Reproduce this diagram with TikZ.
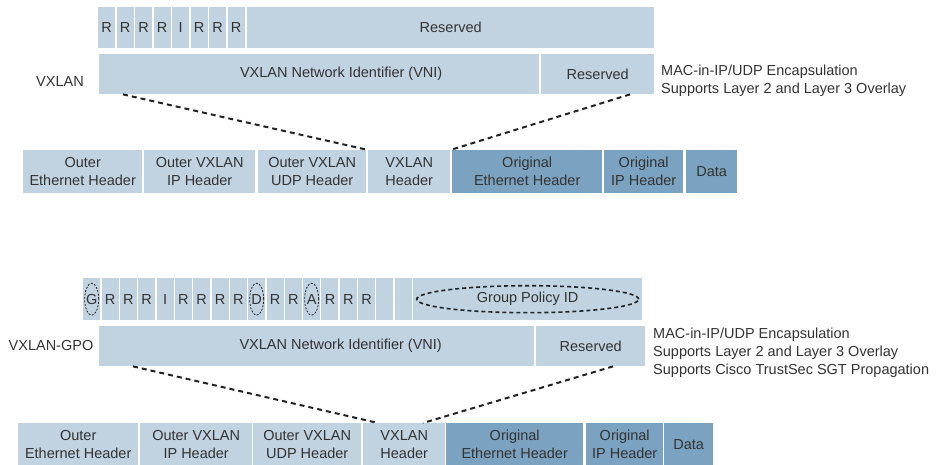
\documentclass[tikz,border=0pt]{standalone}
\usepackage{fontspec}
\setmainfont{Liberation Sans}
\usetikzlibrary{shapes.geometric}

\begin{document}
\begin{tikzpicture}[x=1pt, y=-1pt,
    font=\fontsize{14.5}{18}\selectfont,
    cell/.style={fill=lightBlue, inner sep=0pt, anchor=north west, align=center, text=textGrey},
    darkcell/.style={cell, fill=darkBlue},
    tag/.style={inner sep=0pt, text=textGrey, align=left},
    every label/.style={text=textGrey, inner sep=0pt},
    link/.style={draw=lineGrey, line width=2pt, dash pattern=on 5pt off 4pt},
    ring/.style={draw=lineGrey, ellipse, inner sep=0pt, line width=0.8pt, dash pattern=on 2pt off 1.5pt},
    bigring/.style={draw=lineGrey, ellipse, inner sep=0pt, line width=1.6pt, dash pattern=on 4pt off 3pt}]
    \definecolor{lightBlue}{HTML}{C1D2E1}
    \definecolor{darkBlue}{HTML}{7BA2C0}
    \definecolor{textGrey}{HTML}{333333}
    \definecolor{lineGrey}{HTML}{222222}

    \def\flagPitch{18.5}

    \useasboundingbox (0,0) rectangle (940,465);

    % Draw VXLAN header fields
    \foreach \lbl [count=\i] in {R,R,R,R,I,R,R,R}
        \node[cell, minimum width=17pt, minimum height=41pt] (topFlag\i) at ({98+(\i-1)*\flagPitch},7) {\lbl};
    \node[cell, minimum width=407pt, minimum height=41pt] (topRsvdA) at (247,7) {Reserved};
    \node[cell, minimum width=440pt, minimum height=40pt,
        label={[xshift=22pt]center:VXLAN Network Identifier (VNI)}] (topVni) at (99,54) {};
    \node[cell, minimum width=113pt, minimum height=40pt] (topRsvdB) at (541,54) {Reserved};

    \node[tag] (topTag) at (60,82) {VXLAN};
    \node[tag, anchor=west] (topNote) at (661,81) {MAC-in-IP/UDP Encapsulation\\Supports Layer 2 and Layer 3 Overlay};

    % Draw VXLAN frame
    \node[cell, minimum width=119pt, minimum height=43pt] (topOuterEth) at (23,150) {Outer\\Ethernet Header};
    \node[cell, minimum width=111pt, minimum height=43pt] (topOuterIp) at (144,150) {Outer VXLAN\\IP Header};
    \node[cell, minimum width=108pt, minimum height=43pt] (topOuterUdp) at (258,150) {Outer VXLAN\\UDP Header};
    \node[cell, minimum width=82pt, minimum height=43pt] (topHdr) at (368,150) {VXLAN\\Header};
    \node[darkcell, minimum width=150pt, minimum height=43pt] (topOrigEth) at (452,150) {Original\\Ethernet Header};
    \node[darkcell, minimum width=79pt, minimum height=43pt] (topOrigIp) at (604,150) {Original\\IP Header};
    \node[darkcell, minimum width=51pt, minimum height=43pt] (topData) at (686,150) {Data};

    % Dashed links from header to frame
    \coordinate (topVniL) at ([xshift=24pt]topVni.south west);
    \coordinate (topVniR) at ([xshift=89pt]topRsvdB.south west);
    \draw[link] (topVniL) -- (topHdr.north west);
    \draw[link] (topVniR) -- (topHdr.north east);

    % Draw VXLAN-GPO header fields
    \foreach \lbl [count=\i] in {G,R,R,R,I,R,R,R,R,D,R,R,A,R,R,R,{},{}}
        \node[cell, minimum width=17pt, minimum height=42pt] (botFlag\i) at ({83+(\i-1)*18.33},278) {\lbl};
    \node[cell, minimum width=229pt, minimum height=42pt] (botGpid) at (413,278) {Group Policy ID};
    \foreach \i in {1,10,13}
        \node[ring, minimum width=14pt, minimum height=32pt] (botRing\i) at (botFlag\i.center) {};
    \node[bigring, minimum width=222pt, minimum height=27pt] (botGpidRing) at (botGpid.center) {};

    \node[cell, minimum width=435pt, minimum height=40pt,
        label={[xshift=24pt]center:VXLAN Network Identifier (VNI)}] (botVni) at (99,326) {};
    \node[cell, minimum width=109pt, minimum height=40pt] (botRsvdB) at (536,326) {Reserved};

    \node[tag] (botTag) at (51,346) {VXLAN-GPO};
    \node[tag, anchor=west] (botNote) at (653,353) {MAC-in-IP/UDP Encapsulation\\Supports Layer 2 and Layer 3 Overlay\\Supports Cisco TrustSec SGT Propagation};

    % Draw VXLAN-GPO frame
    \node[cell, minimum width=120pt, minimum height=42pt] (botOuterEth) at (18,423) {Outer\\Ethernet Header};
    \node[cell, minimum width=112pt, minimum height=42pt] (botOuterIp) at (140,423) {Outer VXLAN\\IP Header};
    \node[cell, minimum width=108pt, minimum height=42pt] (botOuterUdp) at (253,423) {Outer VXLAN\\UDP Header};
    \node[cell, minimum width=82pt, minimum height=42pt] (botHdr) at (363,423) {VXLAN\\Header};
    \node[darkcell, minimum width=137pt, minimum height=42pt] (botOrigEth) at (446,423) {Original\\Ethernet Header};
    \node[darkcell, minimum width=77pt, minimum height=42pt] (botOrigIp) at (586,423) {Original\\IP Header};
    \node[darkcell, minimum width=49pt, minimum height=42pt] (botData) at (664,423) {Data};

    % Dashed links from header to frame
    \coordinate (botVniL) at ([xshift=34pt]botVni.south west);
    \coordinate (botVniR) at ([xshift=77pt]botRsvdB.south west);
    \coordinate (botHdrL) at ([xshift=15pt]botHdr.north west);
    \coordinate (botHdrR) at ([xshift=60pt]botHdr.north west);
    \draw[link] (botVniL) -- (botHdrL);
    \draw[link] (botVniR) -- (botHdrR);

\end{tikzpicture}
\end{document}
